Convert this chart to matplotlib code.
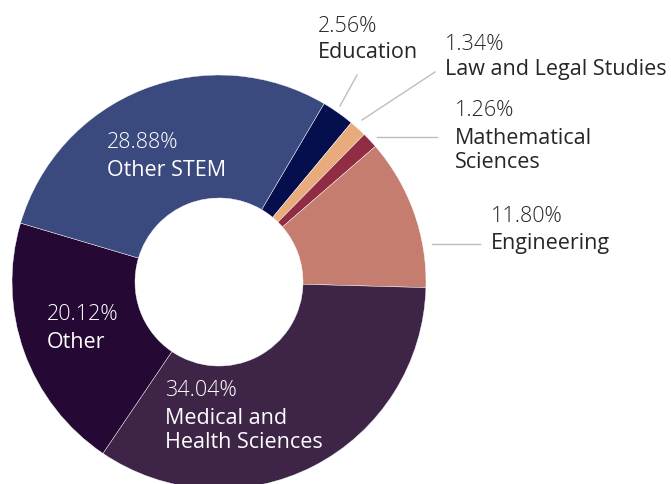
import matplotlib
matplotlib.use("Agg")
import matplotlib.pyplot as plt

categories = ["Education", "Law and Legal Studies", "Mathematical\nSciences", "Engineering",
              "Medical and\nHealth Sciences", "Other", "Other STEM"]
values = [2.56, 1.34, 1.26, 11.80, 34.04, 20.12, 28.88]
colors = ["#060f4e", "#e8ab7c", "#902c44", "#c47d6e", "#3e2548", "#250833", "#3a4a7e"]

W, H = 671, 484
fig = plt.figure(figsize=(W / 100, H / 100), dpi=100)
ax = fig.add_axes([0, 0, 1, 1])

cx, cy, R, r_in = 219, H - 282, 207, 84
start = 90 - 30.5
ax.pie(values, colors=colors, startangle=start, counterclock=False,
       center=(cx, cy), radius=R, frame=True,
       wedgeprops=dict(width=R - r_in, edgecolor="#ffffff", linewidth=0.3))
ax.set_xlim(0, W)
ax.set_ylim(0, H)
ax.set_aspect("equal")
ax.axis("off")

family = ["Open Sans", "DejaVu Sans"]
fs = 15.5

layout = {
    "Education": (318, 27, 26, "#262626"),
    "Law and Legal Studies": (445, 45, 25, "#262626"),
    "Mathematical\nSciences": (455, 110, 28, "#262626"),
    "Engineering": (491, 217, 27, "#262626"),
    "Medical and\nHealth Sciences": (165, 391, 27, "white"),
    "Other": (47, 314, 28, "white"),
    "Other STEM": (107, 143, 28, "white"),
}
for cat, val in zip(categories, values):
    x, y, step, col = layout[cat]
    ax.text(x, H - y, f"{val:.2f}%", fontsize=fs, color=col, family=family,
            fontweight="light", ha="left", va="center")
    for i, line in enumerate(cat.split("\n")):
        ax.text(x, H - (y + step * (i + 1) - (3 * i)), line, fontsize=fs,
                color=col, family=family, ha="left", va="center")

leaders = {
    "Education": ((357, 75), (340, 106)),
    "Law and Legal Studies": ((435, 72), (362, 120)),
    "Mathematical\nSciences": ((437, 137), (377, 137)),
    "Engineering": ((480, 244), (432, 244)),
}
for cat, ((x1, y1), (x2, y2)) in leaders.items():
    ax.plot([x1, x2], [H - y1, H - y2], color="#bdbdbd", lw=1)

fig.savefig("out.png", dpi=100)
